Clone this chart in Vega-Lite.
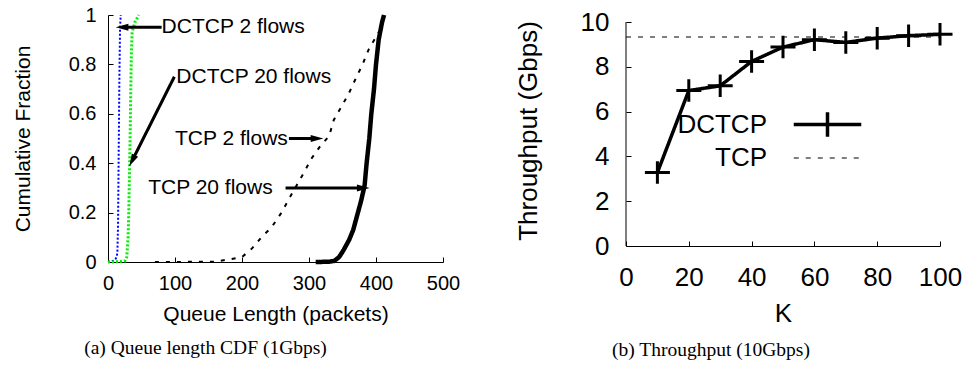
{
  "$schema": "https://vega.github.io/schema/vega-lite/v6.json",
  "background": "white",
  "padding": {"left": 12, "top": 5, "right": 5, "bottom": 5},
  "bounds": "flush",
  "spacing": 183,
  "resolve": {
    "scale": {"color": "independent", "strokeDash": "independent", "strokeWidth": "independent", "angle": "independent", "shape": "independent"},
    "legend": {"color": "independent", "strokeDash": "independent", "strokeWidth": "independent", "angle": "independent", "shape": "independent"}
  },
  "config": {
    "view": {"stroke": null},
    "font": "Liberation Sans",
    "axis": {
      "domainColor": "black", "tickColor": "black", "labelColor": "black", "titleColor": "black",
      "grid": false, "labelFont": "Liberation Sans", "titleFont": "Liberation Sans",
      "titleFontWeight": "normal", "domainWidth": 1, "tickWidth": 1, "labelFlush": false, "labelOverlap": false
    }
  },
  "hconcat": [
    {
      "width": 335,
      "height": 247,
      "title": {"text": "(a)  Queue length CDF (1Gbps)", "orient": "bottom", "anchor": "middle", "frame": "group", "dx": -70, "offset": 15, "font": "Liberation Serif", "fontSize": 19.5, "fontWeight": "normal", "color": "black"},
      "layer": [
        {
          "data": {"values": [
            {"series": "DCTCP 2 flows", "queue": 0, "cdf": 0},
            {"series": "DCTCP 2 flows", "queue": 8, "cdf": 0.005},
            {"series": "DCTCP 2 flows", "queue": 11, "cdf": 0.012},
            {"series": "DCTCP 2 flows", "queue": 13, "cdf": 0.02},
            {"series": "DCTCP 2 flows", "queue": 14, "cdf": 0.04},
            {"series": "DCTCP 2 flows", "queue": 15, "cdf": 0.15},
            {"series": "DCTCP 2 flows", "queue": 16, "cdf": 0.45},
            {"series": "DCTCP 2 flows", "queue": 17, "cdf": 0.75},
            {"series": "DCTCP 2 flows", "queue": 18, "cdf": 0.95},
            {"series": "DCTCP 2 flows", "queue": 19, "cdf": 1.0},
            {"series": "DCTCP 20 flows", "queue": 0, "cdf": 0},
            {"series": "DCTCP 20 flows", "queue": 12, "cdf": 0.001},
            {"series": "DCTCP 20 flows", "queue": 25, "cdf": 0.004},
            {"series": "DCTCP 20 flows", "queue": 28, "cdf": 0.02},
            {"series": "DCTCP 20 flows", "queue": 30, "cdf": 0.1},
            {"series": "DCTCP 20 flows", "queue": 31, "cdf": 0.2},
            {"series": "DCTCP 20 flows", "queue": 32, "cdf": 0.35},
            {"series": "DCTCP 20 flows", "queue": 33, "cdf": 0.5},
            {"series": "DCTCP 20 flows", "queue": 34, "cdf": 0.7},
            {"series": "DCTCP 20 flows", "queue": 35, "cdf": 0.85},
            {"series": "DCTCP 20 flows", "queue": 36, "cdf": 0.93},
            {"series": "DCTCP 20 flows", "queue": 40, "cdf": 0.97},
            {"series": "DCTCP 20 flows", "queue": 46, "cdf": 1.0},
            {"series": "TCP 2 flows", "queue": 70, "cdf": 0},
            {"series": "TCP 2 flows", "queue": 160, "cdf": 0.001},
            {"series": "TCP 2 flows", "queue": 175, "cdf": 0.008},
            {"series": "TCP 2 flows", "queue": 200, "cdf": 0.02},
            {"series": "TCP 2 flows", "queue": 215, "cdf": 0.055},
            {"series": "TCP 2 flows", "queue": 229, "cdf": 0.1},
            {"series": "TCP 2 flows", "queue": 244, "cdf": 0.14},
            {"series": "TCP 2 flows", "queue": 259, "cdf": 0.2},
            {"series": "TCP 2 flows", "queue": 269, "cdf": 0.25},
            {"series": "TCP 2 flows", "queue": 292, "cdf": 0.36},
            {"series": "TCP 2 flows", "queue": 304, "cdf": 0.42},
            {"series": "TCP 2 flows", "queue": 317, "cdf": 0.47},
            {"series": "TCP 2 flows", "queue": 330, "cdf": 0.51},
            {"series": "TCP 2 flows", "queue": 337, "cdf": 0.575},
            {"series": "TCP 2 flows", "queue": 359, "cdf": 0.68},
            {"series": "TCP 2 flows", "queue": 371, "cdf": 0.75},
            {"series": "TCP 2 flows", "queue": 380, "cdf": 0.8},
            {"series": "TCP 2 flows", "queue": 389, "cdf": 0.86},
            {"series": "TCP 2 flows", "queue": 404, "cdf": 0.93},
            {"series": "TCP 20 flows", "queue": 310, "cdf": 0},
            {"series": "TCP 20 flows", "queue": 330, "cdf": 0.001},
            {"series": "TCP 20 flows", "queue": 338, "cdf": 0.005},
            {"series": "TCP 20 flows", "queue": 345, "cdf": 0.02},
            {"series": "TCP 20 flows", "queue": 352, "cdf": 0.05},
            {"series": "TCP 20 flows", "queue": 360, "cdf": 0.09},
            {"series": "TCP 20 flows", "queue": 366, "cdf": 0.13},
            {"series": "TCP 20 flows", "queue": 372, "cdf": 0.19},
            {"series": "TCP 20 flows", "queue": 378, "cdf": 0.25},
            {"series": "TCP 20 flows", "queue": 383, "cdf": 0.31},
            {"series": "TCP 20 flows", "queue": 386, "cdf": 0.4},
            {"series": "TCP 20 flows", "queue": 390, "cdf": 0.5},
            {"series": "TCP 20 flows", "queue": 393, "cdf": 0.6},
            {"series": "TCP 20 flows", "queue": 397, "cdf": 0.7},
            {"series": "TCP 20 flows", "queue": 400, "cdf": 0.8},
            {"series": "TCP 20 flows", "queue": 404, "cdf": 0.9},
            {"series": "TCP 20 flows", "queue": 409, "cdf": 0.97},
            {"series": "TCP 20 flows", "queue": 412, "cdf": 1.0}
          ]},
          "mark": {"type": "line"},
          "encoding": {
            "x": {"field": "queue", "type": "quantitative", "scale": {"domain": [0, 500], "nice": false},
              "axis": {"values": [0, 100, 200, 300, 400, 500], "title": "Queue Length (packets)", "labelFontSize": 20, "titleFontSize": 21, "tickSize": -5, "labelPadding": 16, "titlePadding": 10}},
            "y": {"field": "cdf", "type": "quantitative", "scale": {"domain": [0, 1], "nice": false},
              "axis": {"values": [0, 0.2, 0.4, 0.6, 0.8, 1], "format": "~g", "title": "Cumulative Fraction", "labelFontSize": 20, "titleFontSize": 21, "tickSize": -5, "labelPadding": 17, "titlePadding": 35}},
            "color": {"field": "series", "type": "nominal", "legend": null,
              "scale": {"domain": ["DCTCP 2 flows", "DCTCP 20 flows", "TCP 2 flows", "TCP 20 flows"], "range": ["#0000ff", "#00ee00", "black", "black"]}},
            "strokeDash": {"field": "series", "type": "nominal", "legend": null,
              "scale": {"type": "ordinal", "domain": ["DCTCP 2 flows", "DCTCP 20 flows", "TCP 2 flows", "TCP 20 flows"], "range": [[2, 2], [2, 2], [4, 7], [1, 0]]}},
            "strokeWidth": {"field": "series", "type": "nominal", "legend": null,
              "scale": {"type": "ordinal", "domain": ["DCTCP 2 flows", "DCTCP 20 flows", "TCP 2 flows", "TCP 20 flows"], "range": [2, 3, 2, 4.5]}}
          }
        },
        {
          "data": {"values": [
            {"label": "DCTCP 2 flows", "tx": 80, "ty": 0.95},
            {"label": "DCTCP 20 flows", "tx": 102, "ty": 0.75},
            {"label": "TCP 2 flows", "tx": 100, "ty": 0.5},
            {"label": "TCP 20 flows", "tx": 60, "ty": 0.3}
          ]},
          "mark": {"type": "text", "align": "left", "baseline": "middle", "fontSize": 21, "color": "black", "font": "Liberation Sans"},
          "encoding": {
            "x": {"field": "tx", "type": "quantitative"},
            "y": {"field": "ty", "type": "quantitative"},
            "text": {"field": "label"}
          }
        },
        {
          "data": {"values": [
            {"ax": 80, "ay": 0.95, "bx": 21, "by": 0.95, "dir": "left"},
            {"ax": 99, "ay": 0.75, "bx": 36, "by": 0.41, "dir": "diag"},
            {"ax": 270, "ay": 0.5, "bx": 312, "by": 0.5, "dir": "right"},
            {"ax": 265, "ay": 0.3, "bx": 381, "by": 0.3, "dir": "right"}
          ]},
          "layer": [
            {
              "mark": {"type": "rule", "color": "black", "strokeWidth": 3},
              "encoding": {
                "x": {"field": "ax", "type": "quantitative"},
                "y": {"field": "ay", "type": "quantitative"},
                "x2": {"field": "bx"},
                "y2": {"field": "by"}
              }
            },
            {
              "mark": {"type": "point", "shape": "M0,-1L0.55,1L-0.55,1Z", "filled": true, "color": "black", "size": 160, "opacity": 1},
              "encoding": {
                "x": {"field": "bx", "type": "quantitative"},
                "y": {"field": "by", "type": "quantitative"},
                "angle": {"field": "dir", "type": "nominal", "legend": null, "scale": {"type": "ordinal", "domain": ["left", "right", "diag"], "range": [270, 90, 207]}}
              }
            }
          ]
        }
      ]
    },
    {
      "width": 314,
      "height": 231,
      "title": {"text": "(b)  Throughput (10Gbps)", "orient": "bottom", "anchor": "middle", "frame": "group", "dx": -72, "offset": 15, "font": "Liberation Serif", "fontSize": 19.5, "fontWeight": "normal", "color": "black"},
      "data": {"values": [
        {"series": "DCTCP", "K": 10, "thr": 3.28},
        {"series": "DCTCP", "K": 20, "thr": 6.94},
        {"series": "DCTCP", "K": 30, "thr": 7.15},
        {"series": "DCTCP", "K": 40, "thr": 8.24},
        {"series": "DCTCP", "K": 50, "thr": 8.88},
        {"series": "DCTCP", "K": 60, "thr": 9.21},
        {"series": "DCTCP", "K": 70, "thr": 9.09},
        {"series": "DCTCP", "K": 80, "thr": 9.28},
        {"series": "DCTCP", "K": 90, "thr": 9.39},
        {"series": "DCTCP", "K": 100, "thr": 9.45},
        {"series": "TCP", "K": 0, "thr": 9.33},
        {"series": "TCP", "K": 100, "thr": 9.33}
      ]},
      "layer": [
        {
          "data": {"values": [{}]},
          "mark": {"type": "rule", "color": "black", "strokeWidth": 1},
          "encoding": {
            "x": {"datum": 0, "type": "quantitative", "title": "K"},
            "y": {"datum": 0, "type": "quantitative", "title": "Throughput (Gbps)"},
            "y2": {"datum": 10}
          }
        },
        {
          "mark": {"type": "line"},
          "encoding": {
            "x": {"field": "K", "type": "quantitative", "scale": {"domain": [0, 100], "nice": false},
              "axis": {"values": [0, 20, 40, 60, 80, 100], "title": "K", "labelFontSize": 26, "titleFontSize": 26, "tickSize": -5, "labelPadding": 23, "titlePadding": 10}},
            "y": {"field": "thr", "type": "quantitative", "scale": {"domain": [0, 10.3125], "nice": false},
              "axis": {"values": [0, 2, 4, 6, 8, 10], "title": "Throughput (Gbps)", "domain": false, "labelFontSize": 26, "titleFontSize": 26, "tickSize": -5, "labelPadding": 22, "titlePadding": 39}},
            "strokeDash": {"field": "series", "type": "nominal",
              "scale": {"type": "ordinal", "domain": ["DCTCP", "TCP"], "range": [[1, 0], [5, 7]]},
              "legend": {"orient": "none", "legendX": 186, "legendY": 94, "title": null, "labelFontSize": 26, "labelColor": "black", "labelFont": "Liberation Sans",
                "labelAlign": "right", "labelOffset": -76, "labelLimit": 0, "symbolSize": 729, "symbolStrokeColor": "black",
                "rowPadding": -4, "padding": 0,
                "encode": {"symbols": {"update": {
                  "shape": {"signal": "datum.value === 'DCTCP' ? 'M-2.5,0H2.5M0,-0.9V0.9' : 'M-2.5,0H2.5'"},
                  "strokeWidth": {"signal": "datum.value === 'DCTCP' ? 3.5 : 1.2"},
                  "stroke": {"value": "black"},
                  "opacity": {"value": 1}
                }}}}},
            "strokeWidth": {"field": "series", "type": "nominal", "legend": null,
              "scale": {"type": "ordinal", "domain": ["DCTCP", "TCP"], "range": [3.5, 1]}},
            "color": {"value": "black"}
          }
        },
        {
          "transform": [{"filter": "datum.series === 'DCTCP'"}],
          "mark": {"type": "point", "shape": "M-1,0H1M0,-0.9V0.9", "filled": false, "size": 625, "stroke": "black", "strokeWidth": 3, "opacity": 1},
          "encoding": {
            "x": {"field": "K", "type": "quantitative"},
            "y": {"field": "thr", "type": "quantitative"}
          }
        }
      ]
    }
  ]
}
